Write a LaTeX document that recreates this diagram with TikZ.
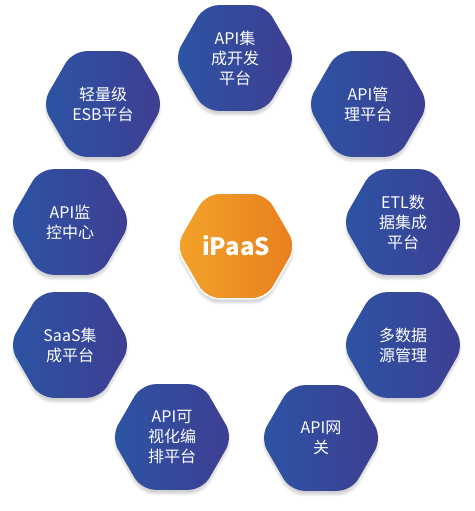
\documentclass[tikz,border=0pt]{standalone}
\usepackage{fontspec}
\setmainfont{Noto Sans CJK SC}
\usetikzlibrary{shapes.geometric,shadows.blur}
\definecolor{hexleft}{RGB}{44,84,164}
\definecolor{hexright}{RGB}{62,62,146}
\definecolor{coreleft}{RGB}{243,163,42}
\definecolor{coreright}{RGB}{232,126,30}
\tikzset{
  hexbox/.style={regular polygon, regular polygon sides=6, minimum size=122pt, inner sep=0pt,
    rounded corners=14pt, left color=hexleft, right color=hexright, text=white, align=center,
    font=\fontsize{16}{20}\selectfont,
    blur shadow={shadow xshift=0pt, shadow yshift=-4pt, shadow blur steps=10, shadow opacity=18}},
  corebox/.style={hexbox, left color=coreleft, right color=coreright, draw=white, line width=1.5pt,
    font=\fontsize{24}{28}\selectfont\bfseries}
}
\begin{document}
\begin{tikzpicture}[x=1pt,y=-1pt]
\useasboundingbox (0,0) rectangle (474,511);
\node[corebox] (core) at (236,246) {iPaaS}; % centre
\node[hexbox] (devplat) at (235,58) {API集\\成开发\\平台};
\node[hexbox] (apimgmt) at (368,104) {API管\\理平台};
\node[hexbox] (etl) at (403,222) {ETL数\\据集成\\平台};
\node[hexbox] (multisrc) at (403,345) {多数据\\源管理};
\node[hexbox] (gateway) at (321,438) {API网\\关};
\node[hexbox] (visual) at (172,437) {API可\\视化编\\排平台};
\node[hexbox] (saas) at (70,345) {SaaS集\\成平台};
\node[hexbox] (monitor) at (70,222) {API监\\控中心};
\node[hexbox] (esb) at (103,104) {轻量级\\ESB平台};
\end{tikzpicture}
\end{document}
